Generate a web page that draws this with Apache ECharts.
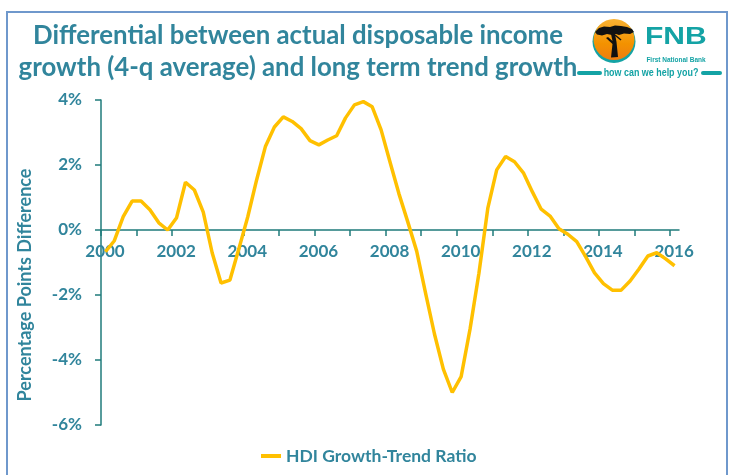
<!DOCTYPE html>
<html>
<head>
<meta charset="utf-8">
<script src="https://cdn.jsdelivr.net/npm/echarts@6/dist/echarts.min.js"></script>
<style>
html,body{margin:0;padding:0;background:#fff;}
#chart{width:732px;height:475px;}
</style>
</head>
<body>
<div id="chart"></div>
<script>
// Quarterly periods (2000Q1 .. 2016Q1)
const quarters = [
 '2000Q1','2000Q2','2000Q3','2000Q4','2001Q1','2001Q2','2001Q3','2001Q4',
 '2002Q1','2002Q2','2002Q3','2002Q4','2003Q1','2003Q2','2003Q3','2003Q4',
 '2004Q1','2004Q2','2004Q3','2004Q4','2005Q1','2005Q2','2005Q3','2005Q4',
 '2006Q1','2006Q2','2006Q3','2006Q4','2007Q1','2007Q2','2007Q3','2007Q4',
 '2008Q1','2008Q2','2008Q3','2008Q4','2009Q1','2009Q2','2009Q3','2009Q4',
 '2010Q1','2010Q2','2010Q3','2010Q4','2011Q1','2011Q2','2011Q3','2011Q4',
 '2012Q1','2012Q2','2012Q3','2012Q4','2013Q1','2013Q2','2013Q3','2013Q4',
 '2014Q1','2014Q2','2014Q3','2014Q4','2015Q1','2015Q2','2015Q3','2015Q4',
 '2016Q1'
];
// HDI Growth-Trend Ratio (percentage points)
const hdiRatio = [
 -0.67,-0.33,0.41,0.89,0.89,0.62,0.22,0.00,
 0.38,1.47,1.23,0.55,-0.70,-1.63,-1.54,-0.58,
 0.40,1.54,2.58,3.17,3.48,3.34,3.12,2.75,
 2.62,2.77,2.90,3.45,3.85,3.95,3.79,3.08,
 2.09,1.12,0.25,-0.65,-1.94,-3.20,-4.28,-5.00,
 -4.51,-3.05,-1.33,0.67,1.85,2.26,2.10,1.76,
 1.18,0.64,0.43,0.04,-0.13,-0.36,-0.82,-1.32,
 -1.65,-1.85,-1.85,-1.57,-1.20,-0.80,-0.70,-0.89,
 -1.10
];
const yTicks = [-6,-4,-2,0,2,4];
const xYearsLabelled = [2000,2002,2004,2006,2008,2010,2012,2014,2016];
const seriesName = 'HDI Growth-Trend Ratio';
const titleLines = ['Differential between actual disposable income','growth (4-q average) and long term trend growth'];
const yAxisTitle = 'Percentage Points Difference';

const points = quarters.map((q,i)=>{
  const yr = parseInt(q.slice(0,4),10), qt = parseInt(q.slice(5),10);
  return [yr + (qt-0.5)/4, hdiRatio[i]];
});

const TEAL = '#31859C';
const AXIS = '#1f7b7b';
const FONT = 'Lato, "Open Sans", sans-serif';
const LOGO = '#14a3a5';

const chart = echarts.init(document.getElementById('chart'), null, {renderer:'canvas'});
chart.setOption({
  animation:false,
  backgroundColor:'#ffffff',
  title:{
    text: titleLines.join('\n'),
    left: 293, top: 15, textAlign:'center',
    textStyle:{fontFamily:FONT, fontWeight:'bold', fontSize:25.8, lineHeight:32, color:TEAL}
  },
  legend:{
    left:256, top:442,
    itemWidth:20, itemHeight:4, icon:'rect', itemGap:10,
    textStyle:{fontFamily:FONT, fontWeight:'bold', fontSize:17.5, color:TEAL},
    data:[seriesName]
  },
  grid:{left:101, right:53, top:100, bottom:50, containLabel:false},
  xAxis:{
    type:'value', min:2000, max:2016.25, interval:1,
    position:'bottom', offset:-195,
    axisLine:{show:true, onZero:false, lineStyle:{color:AXIS, width:1.5}},
    axisTick:{show:true, length:6, lineStyle:{color:AXIS, width:1.5}},
    splitLine:{show:false},
    axisLabel:{
      showMaxLabel:false,
      margin:13,
      padding:[0,0,0,8],
      fontFamily:FONT, fontWeight:'bold', fontSize:17, color:TEAL,
      formatter:(v)=> xYearsLabelled.indexOf(v) >= 0 ? String(v) : ''
    }
  },
  yAxis:{
    type:'value', min:-6, max:4, interval:2,
    axisLine:{show:true, lineStyle:{color:AXIS, width:1.5}},
    axisTick:{show:true, length:6, lineStyle:{color:AXIS, width:1.5}},
    splitLine:{show:false},
    axisLabel:{
      margin:19,
      fontFamily:FONT, fontWeight:'bold', fontSize:17, color:TEAL,
      formatter:(v)=> yTicks.indexOf(v) >= 0 ? v + '%' : ''
    }
  },
  series:[{
    name:seriesName, type:'line', data:points,
    showSymbol:false, symbol:'none', smooth:false,
    lineStyle:{color:'#FFC000', width:3.5},
    itemStyle:{color:'#FFC000'}
  }],
  graphic:[
    {type:'rect', shape:{x:7, y:12, width:720, height:480}, style:{fill:'none', stroke:'#6f98cc', lineWidth:2}, z:-1, silent:true},
    {type:'text', x:25, y:285, rotation:Math.PI/2, style:{text:yAxisTitle, fontFamily:FONT, fontWeight:'bold', fontSize:18, fill:TEAL, textAlign:'center', textVerticalAlign:'middle'}},
    // FNB logo
    {type:'circle', shape:{cx:614, cy:41.5, r:21.5}, style:{fill:LOGO}},
    {type:'circle', shape:{cx:614, cy:39.5, r:20.5}, style:{fill:new echarts.graphic.LinearGradient(0,0,0,1,[{offset:0,color:'#f9b233'},{offset:0.6,color:'#f39200'},{offset:1,color:'#ee7d11'}])}},
    {type:'polygon', shape:{points:[[595,32],[599,28],[604,26.5],[610,27],[615,25.5],[621,26],[627,27],[632,29],[634,32],[630,34],[624,33.5],[619,35],[616,34],[612,35],[607,34],[602,35.5],[597,34.5]]}, style:{fill:'#111'}},
    {type:'polygon', shape:{points:[[611,34],[615,34],[616.5,42],[618,57],[611,57.5],[612.5,44],[606,38],[608,37],[612.5,41]]}, style:{fill:'#111'}},
    {type:'polyline', shape:{points:[[615,35],[621,40]]}, style:{stroke:'#111', lineWidth:1.5}},
    {type:'text', x:645, y:49, scaleX:1.25, originX:0, originY:0, style:{text:'FNB', fontFamily:'"Liberation Sans", Arial, sans-serif', fontWeight:'bold', fontSize:24, fill:LOGO, textAlign:'left', textVerticalAlign:'bottom'}},
    {type:'text', x:676, y:60, style:{text:'First National Bank', fontFamily:'"Liberation Sans", Arial, sans-serif', fontWeight:'bold', fontSize:6.5, fill:LOGO, textAlign:'center', textVerticalAlign:'middle'}},
    {type:'rect', shape:{x:577, y:71, width:25, height:4, r:2}, style:{fill:LOGO}},
    {type:'rect', shape:{x:701, y:71, width:21, height:4, r:2}, style:{fill:LOGO}},
    {type:'text', x:651, y:73, scaleX:0.85, originX:0, originY:0, style:{text:'how can we help you?', fontFamily:'"Liberation Sans", Arial, sans-serif', fontWeight:'bold', fontSize:10.5, fill:LOGO, textAlign:'center', textVerticalAlign:'middle'}}
  ]
});
</script>
</body>
</html>
